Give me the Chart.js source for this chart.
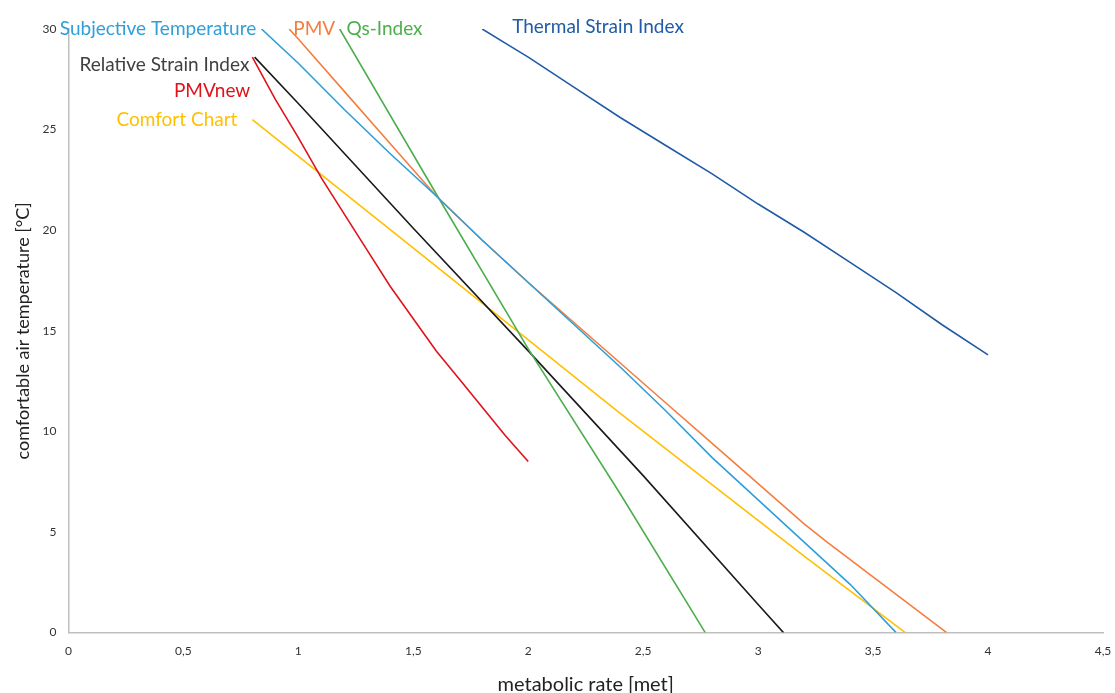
<!DOCTYPE html>
<html>
<head>
<meta charset="utf-8">
<title>Comfortable air temperature vs metabolic rate</title>
<script src="https://cdn.jsdelivr.net/npm/chart.js@4/dist/chart.umd.min.js"></script>
<style>
  html, body { margin: 0; padding: 0; background: #fff; }
  #wrap { width: 1115px; height: 693px; }
</style>
</head>
<body>
<div id="wrap"><canvas id="chart"></canvas></div>
<script>
// metabolic rate [met] / comfortable air temperature [°C]
const subjX = [0.84, 1.0, 1.2, 1.4, 1.6, 1.8, 2.0, 2.2, 2.4, 2.6, 2.8, 3.0, 3.2, 3.4, 3.6];
const subjY = [30, 28.3, 26.0, 23.8, 21.7, 19.5, 17.4, 15.3, 13.2, 11.0, 8.7, 6.6, 4.5, 2.4, 0];

const pmvX = [0.96, 1.0, 1.2, 1.4, 1.6, 1.8, 2.0, 2.2, 2.4, 2.6, 2.8, 3.0, 3.2, 3.3, 3.82];
const pmvY = [30, 29.5, 26.9, 24.3, 21.7, 19.5, 17.4, 15.4, 13.4, 11.4, 9.4, 7.4, 5.4, 4.5, 0];

const qsX = [1.18, 1.6, 2.0, 2.4, 2.77];
const qsY = [30, 21.8, 14.1, 6.9, 0];

const tsiX = [1.8, 1.9, 2.0, 2.2, 2.4, 2.6, 2.8, 3.0, 3.2, 3.4, 3.6, 3.8, 4.0];
const tsiY = [30, 29.3, 28.6, 27.1, 25.6, 24.2, 22.8, 21.3, 19.9, 18.4, 16.9, 15.3, 13.8];

const rsiX = [0.81, 1.0, 1.5, 2.0, 2.5, 3.0, 3.11];
const rsiY = [28.6, 26.3, 20.1, 14.0, 7.8, 1.4, 0];

const pmvNewX = [0.8, 0.9, 1.0, 1.1, 1.2, 1.3, 1.4, 1.5, 1.6, 1.7, 1.8, 1.9, 2.0];
const pmvNewY = [28.6, 26.5, 24.6, 22.6, 20.8, 19.0, 17.2, 15.6, 14.0, 12.6, 11.2, 9.8, 8.5];

const comfortX = [0.8, 1.6, 2.4, 3.2, 3.64];
const comfortY = [25.5, 18.2, 10.9, 3.8, 0];

// in-plot series names, anchored in data units
const labelTexts = ['Subjective Temperature', 'PMV', 'Qs-Index', 'Thermal Strain Index', 'Relative Strain Index', 'PMVnew', 'Comfort Chart'];
const labelX = [0.817, 0.978, 1.209, 1.93, 0.787, 0.791, 0.735];
const labelY = [30.0, 30.0, 30.0, 30.1, 28.2, 26.9, 25.5];
const labelAlign = ['right', 'left', 'left', 'left', 'right', 'right', 'right'];
const labelColors = ['#2e9fd8', '#f47e3e', '#4cae4c', '#1f5ba6', '#404040', '#e0131b', '#ffc000'];

function pts(xs, ys) {
    return xs.map((x, i) => ({x: x, y: ys[i]}));
}

function series(xs, ys, color) {
    return {
        data: pts(xs, ys),
        borderColor: color,
        backgroundColor: color,
        borderWidth: 1.6,
        pointRadius: 0,
        tension: 0,
        fill: false
    };
}

// Draw the series names next to the lines
const seriesLabels = {
    id: 'seriesLabels',
    afterDatasetsDraw(chart) {
        const ctx = chart.ctx;
        const xs = chart.scales.x;
        const ys = chart.scales.y;
        ctx.save();
        ctx.font = '19px Lato, "Open Sans", sans-serif';
        ctx.textBaseline = 'middle';
        labelTexts.forEach((t, i) => {
            ctx.fillStyle = labelColors[i];
            ctx.textAlign = labelAlign[i];
            ctx.fillText(t, xs.getPixelForValue(labelX[i]), ys.getPixelForValue(labelY[i]));
        });
        ctx.restore();
    }
};

const tickFont = {family: 'Lato, "Open Sans", sans-serif', size: 12};

new Chart(document.getElementById('chart'), {
    type: 'line',
    data: {
        datasets: [
            series(subjX, subjY, '#2e9fd8'),
            series(pmvX, pmvY, '#f47e3e'),
            series(qsX, qsY, '#4cae4c'),
            series(tsiX, tsiY, '#1f5ba6'),
            series(rsiX, rsiY, '#1a1a1a'),
            series(pmvNewX, pmvNewY, '#e0131b'),
            series(comfortX, comfortY, '#ffc000')
        ]
    },
    options: {
        responsive: true,
        maintainAspectRatio: false,
        animation: false,
        layout: {padding: {top: 29, right: 12, left: 14.5, bottom: -2}},
        plugins: {
            legend: {display: false},
            tooltip: {enabled: false}
        },
        scales: {
            x: {
                type: 'linear',
                min: 0,
                max: 4.5,
                afterFit: s => { s.paddingRight = 0; },
                grid: {color: 'rgba(0,0,0,0)', drawTicks: false},
                border: {color: '#bfbfbf', width: 1.5},
                ticks: {
                    stepSize: 0.5,
                    padding: 11,
                    color: '#333',
                    font: tickFont,
                    callback: v => String(v).replace('.', ',')
                },
                title: {
                    display: true,
                    text: 'metabolic rate [met]',
                    color: '#222',
                    font: {family: 'Lato, "Open Sans", sans-serif', size: 20, lineHeight: 1},
                    padding: {top: 6, bottom: 0}
                }
            },
            y: {
                type: 'linear',
                min: 0,
                max: 30,
                grid: {color: 'rgba(0,0,0,0)', drawTicks: false},
                border: {color: '#bfbfbf', width: 1.5},
                ticks: {
                    stepSize: 5,
                    padding: 12,
                    color: '#333',
                    font: tickFont
                },
                title: {
                    display: true,
                    text: 'comfortable air temperature [°C]',
                    color: '#222',
                    font: {family: 'Lato, "Open Sans", sans-serif', size: 18, lineHeight: 1},
                    padding: {top: 0, bottom: -2}
                }
            }
        }
    },
    plugins: [seriesLabels]
});
</script>
</body>
</html>
